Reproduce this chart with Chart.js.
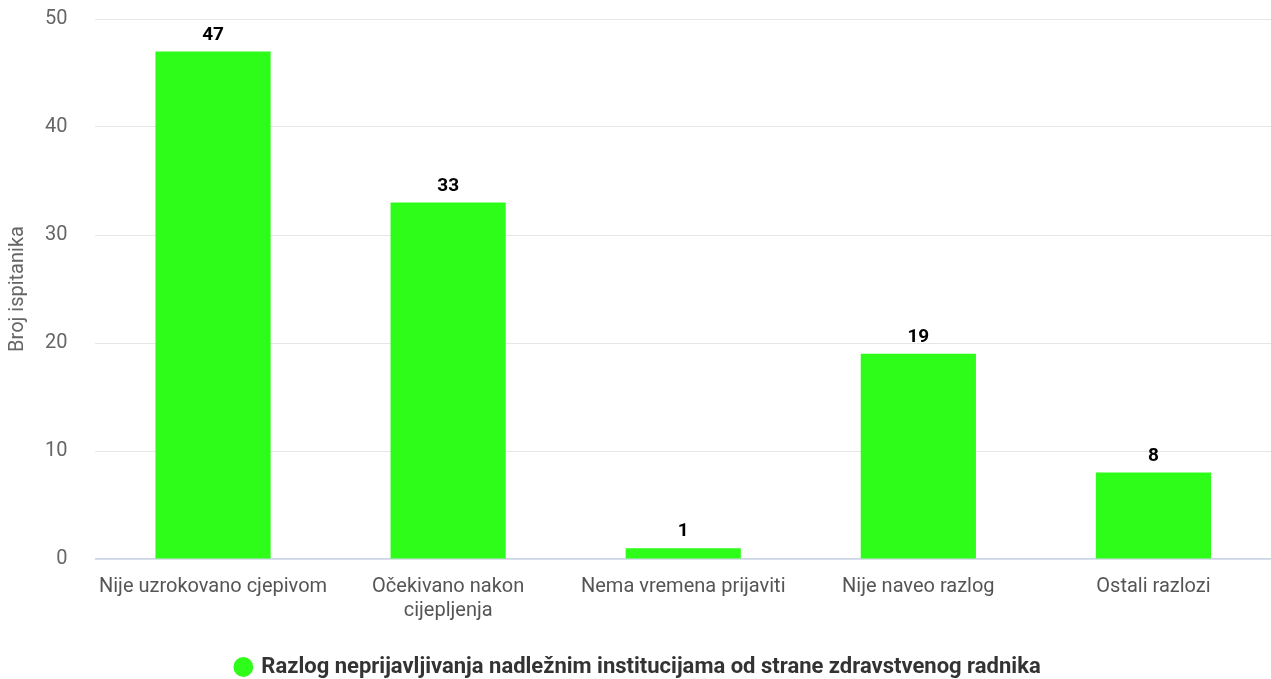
<!DOCTYPE html>
<html>
<head>
<meta charset="utf-8">
<script src="https://cdn.jsdelivr.net/npm/chart.js@4/dist/chart.umd.min.js"></script>
<style>
  html, body { margin: 0; padding: 0; background: #fff; }
  #wrap { width: 1271px; height: 679px; }
</style>
</head>
<body>
<div id="wrap"><canvas id="razlogChart"></canvas></div>
<script>
// podaci s grafa
const kategorije = [
    'Nije uzrokovano cjepivom',
    ['Očekivano nakon', 'cijepljenja'],
    'Nema vremena prijaviti',
    'Nije naveo razlog',
    'Ostali razlozi'
];
const vrijednosti = [47, 33, 1, 19, 8];
const nazivSerije = 'Razlog neprijavljivanja nadležnim institucijama od strane zdravstvenog radnika';
const yTickovi = [0, 10, 20, 30, 40, 50];

// brojke iznad stupaca
const oznakeStupaca = {
    id: 'oznakeStupaca',
    afterDatasetsDraw(chart) {
        const ctx = chart.ctx;
        const meta = chart.getDatasetMeta(0);
        ctx.save();
        ctx.font = 'bold 19px Roboto';
        ctx.fillStyle = '#000';
        ctx.textAlign = 'center';
        ctx.textBaseline = 'bottom';
        meta.data.forEach(function (bar, i) {
            ctx.fillText(vrijednosti[i], bar.x, bar.y - 7);
        });
        ctx.restore();
    }
};

new Chart(document.getElementById('razlogChart').getContext('2d'), {
    type: 'bar',
    data: {
        labels: kategorije,
        datasets: [{
            label: nazivSerije,
            data: vrijednosti,
            backgroundColor: '#2efd1a',
            borderWidth: 0,
            categoryPercentage: 1,
            barPercentage: 0.49
        }]
    },
    options: {
        responsive: true,
        maintainAspectRatio: false,
        animation: false,
        layout: { padding: { top: 19, right: 0, left: 6, bottom: -9 } },
        scales: {
            x: {
                grid: { display: false, drawTicks: false },
                border: { color: '#ccd6eb', width: 1.5 },
                ticks: {
                    color: '#555',
                    font: { family: 'Roboto', size: 20 },
                    maxRotation: 0,
                    autoSkip: false,
                    padding: 16
                },
                // malo više mjesta ispod oznaka, do legende
                afterFit(axis) {
                    axis.height = 96;
                }
            },
            y: {
                min: 0,
                max: 50,
                afterBuildTicks(axis) {
                    axis.ticks = yTickovi.map(v => ({ value: v }));
                },
                grid: { color: '#e6e6e6', drawTicks: true, tickLength: 24, tickColor: 'rgba(0,0,0,0)' },
                border: { display: false },
                ticks: {
                    color: '#666',
                    font: { family: 'Roboto', size: 20 },
                    padding: 4
                },
                title: {
                    display: true,
                    text: 'Broj ispitanika',
                    color: '#666',
                    font: { family: 'Roboto', size: 20 },
                    padding: { top: 0, bottom: 11 }
                }
            }
        },
        plugins: {
            legend: {
                position: 'bottom',
                labels: {
                    usePointStyle: true,
                    pointStyle: 'circle',
                    boxWidth: 14,
                    boxHeight: 14,
                    color: '#333',
                    font: { family: 'Roboto', size: 22, weight: 'bold' },
                    padding: 1
                }
            },
            tooltip: { enabled: false }
        }
    },
    plugins: [oznakeStupaca]
});
</script>
</body>
</html>
